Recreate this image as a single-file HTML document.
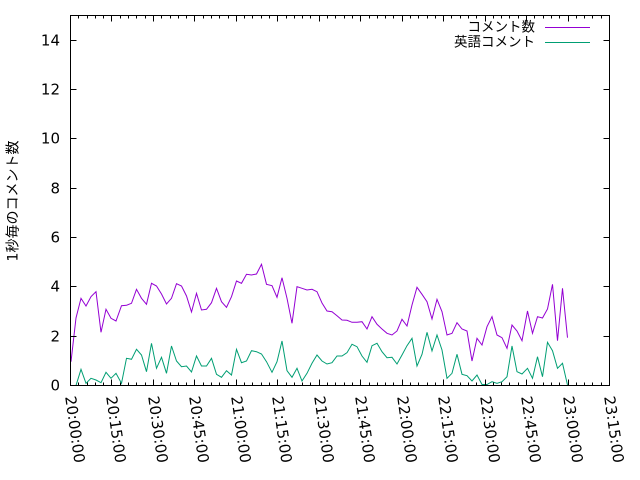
<!DOCTYPE html>
<html>
<head>
<meta charset="utf-8">
<style>
  html, body { margin: 0; padding: 0; background: #fff; }
  svg { display: block; }
  text { font-family: "DejaVu Sans", "Liberation Sans", "Noto Sans CJK JP", sans-serif; fill: #000; }
  .cjk { font-family: "DejaVu Sans", "Noto Sans CJK JP", sans-serif; }
</style>
</head>
<body>
<svg width="640" height="480" viewBox="0 0 640 480" xmlns="http://www.w3.org/2000/svg">
  <rect x="0" y="0" width="640" height="480" fill="#fff"/>

  <!-- series: コメント数 -->
  <polyline fill="none" stroke="#9400D3" stroke-width="1" stroke-linejoin="miter" points="
71,361.7 76,318 81,298.3 86,306 91,296.7 96,291.7 101,332.3 106,309.3 111,318.3 116,321
121.5,305.7 126.5,305.3 131.5,303.3 136.5,289.3 141.5,298.3 146.5,304.3 151.5,283.3 156.5,286 161.5,294 166.5,304
171.5,298.3 176.5,283.7 181.5,286 186.5,296 191.5,312 196.5,293.3 201.5,310 206.5,309.3 211.5,302.7 216.5,288.3
221.5,301.7 226.5,307.3 231.5,296.7 236.5,281 241.5,283.3 246.5,274.3 251.5,275 256.5,274 261.5,264.3 266.5,284.3
272,285.7 277,297.3 282,277.7 287,298.3 292,323.3 297,286.7 302,288.3 307,290 312,289.3 317,291.7
322,303 327,311 332,311.7 337,315.7 342,320 347,320.3 352,322.3 357,322.3 362,321.7 367,329
372,316.7 377,324.3 382,329 387,333.3 392,335 397,331 402,319.3 407,326 412,305 417,287.3
422,294.3 427,301.7 432,319 437,299.3 442,311.7 447,335 452,333.3 457,322.7 462,329 467,331
472,361 477,338.3 482,345 487,326.7 492,316.7 497,335 502,337.7 507,348.3 512,325 517,331
522,340.7 527.5,311 532.5,333.3 537.5,316.7 542.5,318 547.5,309 552.5,284.3 557.5,340.7 562.5,288.3 567.5,337.7"/>

  <!-- series: 英語コメント -->
  <polyline fill="none" stroke="#009E73" stroke-width="1" stroke-linejoin="miter" points="
71,385.5 76,385.5 81,369.3 86,383.3 91,378.3 96,380 101,382.7 106,372.3 111,378.3 116,373.3
121.5,383.3 126.5,358.3 131.5,359.3 136.5,349.3 141.5,355 146.5,371.7 151.5,343.3 156.5,368.3 161.5,357.3 166.5,373.3
171.5,346 176.5,361 181.5,366.7 186.5,366 191.5,372 196.5,356 201.5,366 206.5,366 211.5,358.3 216.5,374.3
221.5,377.3 226.5,370.7 231.5,375 236.5,349.3 241.5,362.7 246.5,361 251.5,350.7 256.5,351.7 261.5,354 266.5,361.7
272,372.3 277,361.7 282,341 287,370.7 292,377.3 297,368.3 302,381 307,373.3 312,363.3 317,355
322,361 327,364 332,362.7 337,356 342,356 347,352.7 352,344.3 357,346.7 362,356 367,362.3
372,345.7 377,343.3 382,351.7 387,357.7 392,357.3 397,364 402,355 407,345.7 412,338.3 417,366
422,354.3 427,332.3 432,351 437,335 442,350 447,378.3 452,373.3 457,354.3 462,374.3 467,375.7
472,381 477,375 482,384.5 487,384.5 492,381.7 497,383.3 502,381.7 507,376.7 512,346 517,371.7
522,374 527.5,368.3 532.5,378.3 537.5,356.7 542.5,376.7 547.5,342.3 552.5,350.7 557.5,368.3 562.5,363.3 567.5,385"/>

  <!-- frame -->
  <rect x="70.5" y="15.5" width="539" height="370" fill="none" stroke="#000" stroke-width="1"/>

  <!-- y ticks (left & right) -->
  <path stroke="#000" stroke-width="1" fill="none" d="
M70.5,336.5h6 M70.5,286.5h6 M70.5,237.5h6 M70.5,188.5h6 M70.5,138.5h6 M70.5,89.5h6 M70.5,40.5h6
M609.5,336.5h-6 M609.5,286.5h-6 M609.5,237.5h-6 M609.5,188.5h-6 M609.5,138.5h-6 M609.5,89.5h-6 M609.5,40.5h-6"/>

  <!-- x major ticks (bottom & top) -->
  <path stroke="#000" stroke-width="1" fill="none" d="
M111.5,385.5v-6 M153.5,385.5v-6 M194.5,385.5v-6 M236.5,385.5v-6 M277.5,385.5v-6 M319.5,385.5v-6 M360.5,385.5v-6
M402.5,385.5v-6 M443.5,385.5v-6 M485.5,385.5v-6 M526.5,385.5v-6 M568.5,385.5v-6
M111.5,15.5v6 M153.5,15.5v6 M194.5,15.5v6 M236.5,15.5v6 M277.5,15.5v6 M319.5,15.5v6 M360.5,15.5v6
M402.5,15.5v6 M443.5,15.5v6 M485.5,15.5v6 M526.5,15.5v6 M568.5,15.5v6"/>

  <!-- x minor ticks (bottom & top) -->
  <path stroke="#000" stroke-width="1" fill="none" d="
M78.5,385.5v-3 M87.5,385.5v-3 M95.5,385.5v-3 M103.5,385.5v-3
M120.5,385.5v-3 M128.5,385.5v-3 M136.5,385.5v-3 M145.5,385.5v-3
M161.5,385.5v-3 M170.5,385.5v-3 M178.5,385.5v-3 M186.5,385.5v-3
M203.5,385.5v-3 M211.5,385.5v-3 M219.5,385.5v-3 M228.5,385.5v-3
M244.5,385.5v-3 M252.5,385.5v-3 M261.5,385.5v-3 M269.5,385.5v-3
M286.5,385.5v-3 M294.5,385.5v-3 M302.5,385.5v-3 M310.5,385.5v-3
M327.5,385.5v-3 M335.5,385.5v-3 M344.5,385.5v-3 M352.5,385.5v-3
M369.5,385.5v-3 M377.5,385.5v-3 M385.5,385.5v-3 M393.5,385.5v-3
M410.5,385.5v-3 M418.5,385.5v-3 M427.5,385.5v-3 M435.5,385.5v-3
M451.5,385.5v-3 M460.5,385.5v-3 M468.5,385.5v-3 M476.5,385.5v-3
M493.5,385.5v-3 M501.5,385.5v-3 M509.5,385.5v-3 M518.5,385.5v-3
M534.5,385.5v-3 M543.5,385.5v-3 M551.5,385.5v-3 M559.5,385.5v-3
M576.5,385.5v-3 M584.5,385.5v-3 M592.5,385.5v-3 M601.5,385.5v-3
M78.5,15.5v3 M87.5,15.5v3 M95.5,15.5v3 M103.5,15.5v3
M120.5,15.5v3 M128.5,15.5v3 M136.5,15.5v3 M145.5,15.5v3
M161.5,15.5v3 M170.5,15.5v3 M178.5,15.5v3 M186.5,15.5v3
M203.5,15.5v3 M211.5,15.5v3 M219.5,15.5v3 M228.5,15.5v3
M244.5,15.5v3 M252.5,15.5v3 M261.5,15.5v3 M269.5,15.5v3
M286.5,15.5v3 M294.5,15.5v3 M302.5,15.5v3 M310.5,15.5v3
M327.5,15.5v3 M335.5,15.5v3 M344.5,15.5v3 M352.5,15.5v3
M369.5,15.5v3 M377.5,15.5v3 M385.5,15.5v3 M393.5,15.5v3
M410.5,15.5v3 M418.5,15.5v3 M427.5,15.5v3 M435.5,15.5v3
M451.5,15.5v3 M460.5,15.5v3 M468.5,15.5v3 M476.5,15.5v3
M493.5,15.5v3 M501.5,15.5v3 M509.5,15.5v3 M518.5,15.5v3
M534.5,15.5v3 M543.5,15.5v3 M551.5,15.5v3 M559.5,15.5v3
M576.5,15.5v3 M584.5,15.5v3 M592.5,15.5v3 M601.5,15.5v3"/>

  <!-- y tick labels -->
  <g font-size="15" text-anchor="end">
    <text x="60" y="390.5">0</text>
    <text x="60" y="341.5">2</text>
    <text x="60" y="291.5">4</text>
    <text x="60" y="242.5">6</text>
    <text x="60" y="193.5">8</text>
    <text x="60" y="143.5">10</text>
    <text x="60" y="94.5">12</text>
    <text x="60" y="45.5">14</text>
  </g>

  <!-- x tick labels (rotated) -->
  <g font-size="15">
    <text x="70.5" y="396" dy="0.36em" transform="rotate(82 70.5 396)">20:00:00</text>
    <text x="111.5" y="396" dy="0.36em" transform="rotate(82 111.5 396)">20:15:00</text>
    <text x="153.5" y="396" dy="0.36em" transform="rotate(82 153.5 396)">20:30:00</text>
    <text x="194.5" y="396" dy="0.36em" transform="rotate(82 194.5 396)">20:45:00</text>
    <text x="236.5" y="396" dy="0.36em" transform="rotate(82 236.5 396)">21:00:00</text>
    <text x="277.5" y="396" dy="0.36em" transform="rotate(82 277.5 396)">21:15:00</text>
    <text x="319.5" y="396" dy="0.36em" transform="rotate(82 319.5 396)">21:30:00</text>
    <text x="360.5" y="396" dy="0.36em" transform="rotate(82 360.5 396)">21:45:00</text>
    <text x="402.5" y="396" dy="0.36em" transform="rotate(82 402.5 396)">22:00:00</text>
    <text x="443.5" y="396" dy="0.36em" transform="rotate(82 443.5 396)">22:15:00</text>
    <text x="485.5" y="396" dy="0.36em" transform="rotate(82 485.5 396)">22:30:00</text>
    <text x="526.5" y="396" dy="0.36em" transform="rotate(82 526.5 396)">22:45:00</text>
    <text x="568.5" y="396" dy="0.36em" transform="rotate(82 568.5 396)">23:00:00</text>
    <text x="609.5" y="396" dy="0.36em" transform="rotate(82 609.5 396)">23:15:00</text>
  </g>

  <!-- y axis label -->
  <text class="cjk" font-size="14" text-anchor="middle" transform="translate(12.5,201) rotate(-90)" x="0" y="5">1秒毎のコメント数</text>

  <!-- legend -->
  <text class="cjk" font-size="13.5" text-anchor="end" x="535" y="31.5">コメント数</text>
  <line x1="545" y1="27.5" x2="590" y2="27.5" stroke="#9400D3" stroke-width="1"/>
  <text class="cjk" font-size="13.5" text-anchor="end" x="535" y="46.5">英語コメント</text>
  <line x1="545" y1="42.5" x2="590" y2="42.5" stroke="#009E73" stroke-width="1"/>
</svg>
</body>
</html>
